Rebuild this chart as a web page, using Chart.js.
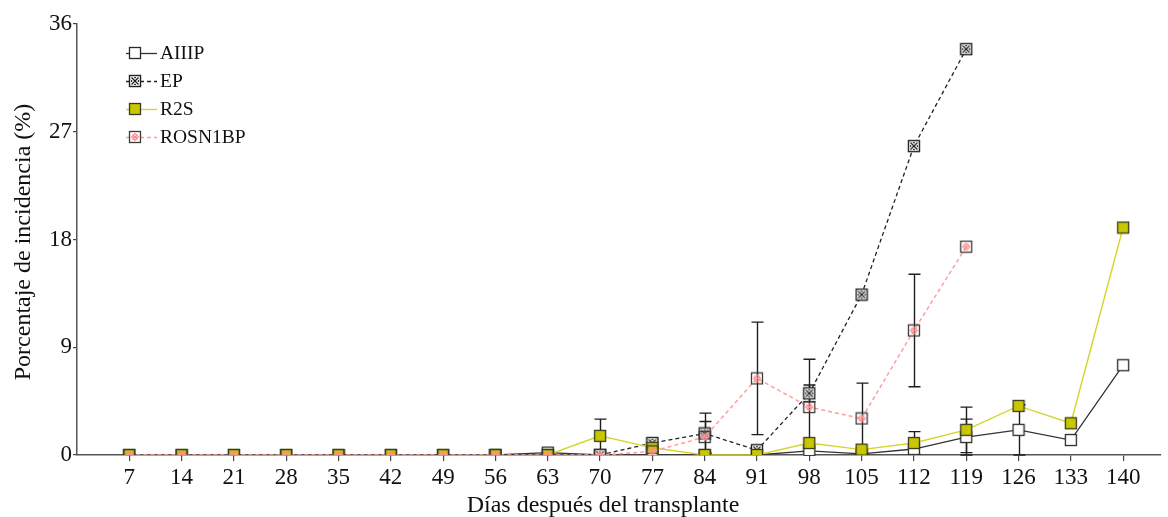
<!DOCTYPE html>
<html>
<head>
<meta charset="utf-8">
<script src="https://cdn.jsdelivr.net/npm/chart.js@4.4.1/dist/chart.umd.min.js"></script>
<style>
  html, body { margin: 0; padding: 0; background: #fff; }
  #wrap { width: 1168px; height: 517px; }
</style>
</head>
<body>
<div id="wrap"><canvas id="c" width="1168" height="517"></canvas></div>
<script>
// Sampling days (días después del transplante)
const days = [7, 14, 21, 28, 35, 42, 49, 56, 63, 70, 77, 84, 91, 98, 105, 112, 119, 126, 133, 140];
const yTicks = [0, 9, 18, 27, 36];

// Incidence (%) per treatment
const aiiip   = [null, null, null, null, null, null, null, 0, 0.2, 0, 0, 0, 0, 0.35, 0.1, 0.5, 1.5, 2.1, 1.25, 7.5];
const ep      = [null, null, null, null, null, null, null, null, null, 0, 1.0, 1.8, 0.4, 5.15, 13.4, 25.8, 33.9, null, null, null];
const r2s     = [0, 0, 0, 0, 0, 0, 0, 0, 0, 1.6, 0.6, 0, 0, 1.0, 0.45, 1.0, 2.1, 4.1, 2.65, 19.0];
const rosn1bp = [0, 0, 0, 0, 0, 0, 0, 0, 0, 0, 0.3, 1.5, 6.4, 4.0, 3.05, 10.4, 17.4, null, null, null];

// Standard error for each point (null = no bar)
const errAiiip   = [null, null, null, null, null, null, null, null, null, null, null, null, null, null, null, null, 1.5, 2.1, null, null];
const errEp      = [null, null, null, null, null, null, null, null, null, null, 0.35, 1.7, null, 0.7, null, null, null, null, null, null];
const errR2s     = [null, null, null, null, null, null, null, null, null, 1.4, null, null, null, null, null, 0.95, 1.9, null, null, null];
const errRosn1bp = [null, null, null, null, null, null, null, null, null, null, null, 1.3, 4.7, 4.0, 2.95, 4.7, null, null, null, null];

const seriesNames = ['AIIIP', 'EP', 'R2S', 'ROSN1BP'];
const xTitle = 'Días después del transplante';
const yTitle = 'Porcentaje de incidencia (%)';

const FONT = '"Liberation Serif", "Times New Roman", serif';
const S = 12; // marker size

function makeMarker(kind) {
  const c = document.createElement('canvas');
  c.width = S + 2; c.height = S + 2;
  const g = c.getContext('2d');
  const o = 1.5, w = S - 1;
  if (kind === 'open') {
    g.fillStyle = '#fff'; g.fillRect(o, o, w, w);
    g.strokeStyle = '#2a2a2a'; g.lineWidth = 1.3; g.strokeRect(o, o, w, w);
  } else if (kind === 'cross') {
    g.fillStyle = '#fff'; g.fillRect(o, o, w, w);
    g.strokeStyle = '#1a1a1a'; g.lineWidth = 1.2;
    g.beginPath();
    g.moveTo(o + 2, o + 2); g.lineTo(o + w - 2, o + w - 2);
    g.moveTo(o + w - 2, o + 2); g.lineTo(o + 2, o + w - 2);
    g.stroke();
    g.fillStyle = '#333';
    g.fillRect(o + w / 2 - 1, o + 1.5, 2, 1.2);
    g.fillRect(o + w / 2 - 1, o + w - 2.7, 2, 1.2);
    g.fillRect(o + 1.5, o + w / 2 - 1, 1.2, 2);
    g.fillRect(o + w - 2.7, o + w / 2 - 1, 1.2, 2);
    g.strokeStyle = '#1f1f1f'; g.lineWidth = 1.4; g.strokeRect(o, o, w, w);
  } else if (kind === 'yellow') {
    g.fillStyle = '#c9c800'; g.fillRect(o, o, w, w);
    g.strokeStyle = '#3a3a20'; g.lineWidth = 1.3; g.strokeRect(o, o, w, w);
  } else if (kind === 'pink') {
    g.strokeStyle = '#ff8c8c'; g.lineWidth = 1.1;
    const m = o + w / 2;
    g.beginPath();
    g.moveTo(m, o + 2); g.lineTo(o + w - 2, m); g.lineTo(m, o + w - 2); g.lineTo(o + 2, m); g.closePath();
    g.moveTo(o + 3, o + 3); g.lineTo(o + w - 3, o + w - 3);
    g.moveTo(o + w - 3, o + 3); g.lineTo(o + 3, o + w - 3);
    g.stroke();
    g.strokeStyle = '#3a3a3a'; g.lineWidth = 1.3; g.strokeRect(o, o, w, w);
  }
  return c;
}

const markers = {
  AIIIP: makeMarker('open'),
  EP: makeMarker('cross'),
  R2S: makeMarker('yellow'),
  ROSN1BP: makeMarker('pink')
};

const lineStyles = {
  AIIIP:   { color: '#333333', dash: [], width: 1.3 },
  EP:      { color: '#222222', dash: [4, 3], width: 1.3 },
  R2S:     { color: '#d6d62a', dash: [], width: 1.4 },
  ROSN1BP: { color: '#ff9e9e', dash: [4, 3], width: 1.5 }
};

const idx63 = days.indexOf(63);

function pts(arr) {
  return days.map((d, i) => ({ x: d, y: arr[i] }));
}

function ds(name, arr, errs, order, extra) {
  const st = lineStyles[name];
  return Object.assign({
    label: name,
    data: pts(arr),
    errors: errs,
    order: order,
    borderColor: st.color,
    borderDash: st.dash,
    borderWidth: st.width,
    pointStyle: markers[name],
    pointRadius: S / 2,
    pointHoverRadius: S / 2,
    fill: false,
    tension: 0,
    spanGaps: false
  }, extra || {});
}

const datasets = [
  ds('ROSN1BP', rosn1bp, errRosn1bp, 0),
  ds('R2S', r2s, errR2s, 1, {
    segment: { borderColor: ctx => ctx.p1DataIndex <= idx63 ? 'rgba(0,0,0,0)' : lineStyles.R2S.color }
  }),
  ds('EP', ep, errEp, 2),
  ds('AIIIP', aiiip, errAiiip, 3)
];

// Vertical error bars with caps, drawn under the markers
const errorBars = {
  id: 'errorBars',
  beforeDatasetsDraw(chart) {
    const { ctx, scales: { x, y } } = chart;
    ctx.save();
    ctx.strokeStyle = '#1e1e1e';
    ctx.lineWidth = 1.4;
    ctx.setLineDash([]);
    chart.data.datasets.forEach(d => {
      if (!d.errors) return;
      d.data.forEach((p, i) => {
        const e = d.errors[i];
        if (e == null || p.y == null) return;
        const px = Math.round(x.getPixelForValue(p.x)) + 0.5;
        const yt = y.getPixelForValue(p.y + e);
        const yb = y.getPixelForValue(Math.max(0, p.y - e));
        ctx.beginPath();
        ctx.moveTo(px, yt); ctx.lineTo(px, yb);
        ctx.moveTo(px - 6, yt); ctx.lineTo(px + 6, yt);
        ctx.moveTo(px - 6, yb); ctx.lineTo(px + 6, yb);
        ctx.stroke();
      });
    });
    ctx.restore();
  }
};

// Legend inside the plot (top left) and the two axis titles
const annotations = {
  id: 'annotations',
  afterDraw(chart) {
    const { ctx } = chart;
    ctx.save();
    seriesNames.forEach((name, k) => {
      const yy = 53 + k * 28;
      const st = lineStyles[name];
      ctx.strokeStyle = st.color;
      ctx.lineWidth = st.width;
      ctx.setLineDash(st.dash);
      ctx.beginPath();
      ctx.moveTo(126, yy + 0.5); ctx.lineTo(157, yy + 0.5);
      ctx.stroke();
      ctx.setLineDash([]);
      const m = markers[name];
      ctx.drawImage(m, 135 - m.width / 2, yy - m.height / 2);
      ctx.fillStyle = '#111';
      ctx.font = '19.5px ' + FONT;
      ctx.textBaseline = 'middle';
      ctx.textAlign = 'left';
      ctx.fillText(name, 160, yy + 1);
    });

    ctx.fillStyle = '#111';
    ctx.font = '24px ' + FONT;
    ctx.textAlign = 'center';
    ctx.textBaseline = 'alphabetic';
    ctx.fillText(xTitle, 603, 512);

    ctx.translate(30, 242);
    ctx.rotate(-Math.PI / 2);
    ctx.fillText(yTitle, 0, 0);
    ctx.restore();
  }
};

new Chart(document.getElementById('c'), {
  type: 'line',
  data: { datasets },
  plugins: [errorBars, annotations],
  options: {
    responsive: false,
    animation: false,
    events: [],
    layout: { padding: { top: 24, right: 5, left: 0, bottom: 0 } },
    plugins: { legend: { display: false }, tooltip: { enabled: false } },
    scales: {
      x: {
        type: 'linear',
        min: 0,
        max: 145,
        afterBuildTicks(scale) { scale.ticks = days.map(v => ({ value: v })); },
        afterFit(scale) { scale.height = 62; },
        border: { display: true, color: '#555', width: 1.5 },
        grid: { drawOnChartArea: false, drawTicks: true, tickLength: 6, color: '#444', lineWidth: 1.2 },
        ticks: {
          autoSkip: false,
          maxRotation: 0,
          padding: 3,
          color: '#111',
          font: { family: FONT, size: 23 },
          callback: v => String(v)
        }
      },
      y: {
        min: 0,
        max: 36,
        afterBuildTicks(scale) { scale.ticks = yTicks.map(v => ({ value: v })); },
        afterFit(scale) { scale.width = 77; },
        border: { display: true, color: '#555', width: 1.5 },
        grid: { drawOnChartArea: false, drawTicks: true, tickLength: 4, color: '#444', lineWidth: 1.2 },
        ticks: {
          padding: 1,
          color: '#111',
          font: { family: FONT, size: 23 }
        }
      }
    }
  }
});
</script>
</body>
</html>
